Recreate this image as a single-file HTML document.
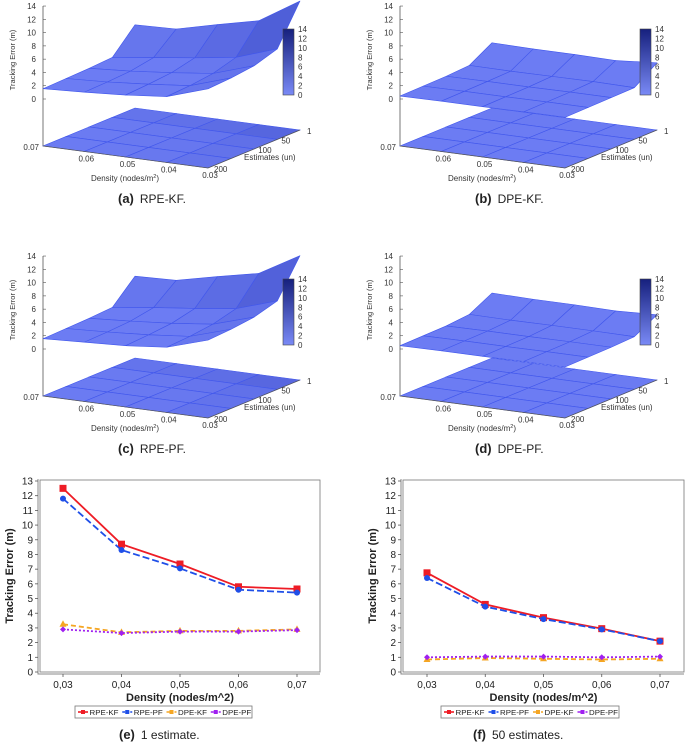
<!DOCTYPE html>
<html><head><meta charset="utf-8"><style>
html,body{margin:0;padding:0;background:#fff}
svg{display:block;font-family:"Liberation Sans",sans-serif}
</style></head><body>
<svg id="fig" width="685" height="742" viewBox="0 0 685 742" xmlns="http://www.w3.org/2000/svg"></svg>
<script>
// ---- data ----
const densities = [0.03, 0.04, 0.05, 0.06, 0.07];
const densityLabels = ["0,03", "0,04", "0,05", "0,06", "0,07"];
const estimates = [1, 50, 100, 150, 200];
const yTicks = [0,1,2,3,4,5,6,7,8,9,10,11,12,13];
const zTicks = [0,2,4,6,8,10,12,14];
// chart e (1 estimate)
const eRpeKf = [12.5, 8.7, 7.35, 5.8, 5.65];
const eRpePf = [11.8, 8.3, 7.05, 5.6, 5.4];
const eDpeKf = [3.25, 2.7, 2.8, 2.8, 2.9];
const eDpePf = [2.9, 2.65, 2.75, 2.75, 2.85];
// chart f (50 estimates)
const fRpeKf = [6.75, 4.6, 3.7, 2.95, 2.1];
const fRpePf = [6.4, 4.45, 3.6, 2.9, 2.1];
const fDpeKf = [0.85, 0.95, 0.9, 0.85, 0.9];
const fDpePf = [1.0, 1.05, 1.05, 1.0, 1.05];
// surfaces: rows = estimates, cols = densities
const surfRpeKf = [[12.5,8.7,7.3,5.8,5.6],[6.7,4.6,3.7,2.9,2.1],[5.6,3.6,2.9,2.3,1.9],[5.2,3.2,2.6,2.1,1.8],[5.0,3.0,2.4,2.0,1.7]];
const surfDpeKf = [[3.2,2.7,2.8,2.8,2.9],[0.85,0.95,0.9,0.85,0.9],[0.8,0.8,0.75,0.75,0.7],[0.75,0.75,0.7,0.7,0.65],[0.7,0.7,0.65,0.65,0.6]];
const surfRpePf = [[11.8,8.3,7.0,5.6,5.4],[6.4,4.4,3.6,2.9,2.1],[5.4,3.5,2.8,2.3,1.9],[5.0,3.1,2.5,2.1,1.8],[4.8,2.9,2.3,2.0,1.7]];
const surfDpePf = [[2.9,2.65,2.75,2.75,2.85],[1.0,1.05,1.05,1.0,1.05],[0.85,0.85,0.8,0.8,0.75],[0.8,0.8,0.75,0.75,0.7],[0.75,0.75,0.7,0.7,0.65]];

const NS="http://www.w3.org/2000/svg";
const svg=document.getElementById('fig');
function mk(tag,attrs,parent,text){const e=document.createElementNS(NS,tag);for(const k in attrs)e.setAttribute(k,attrs[k]);if(text!==undefined)e.textContent=text;(parent||svg).appendChild(e);return e;}
function col(z){const t=Math.max(0,Math.min(1,z/14));const a=[122,138,246],b=[22,32,125];return `rgb(${Math.round(a[0]+(b[0]-a[0])*t)},${Math.round(a[1]+(b[1]-a[1])*t)},${Math.round(a[2]+(b[2]-a[2])*t)})`;}
function colS(z){const t=Math.max(0,Math.min(1,(z-3)/14));const a=[108,124,243],b=[30,44,170];return `rgb(${Math.round(a[0]+(b[0]-a[0])*t)},${Math.round(a[1]+(b[1]-a[1])*t)},${Math.round(a[2]+(b[2]-a[2])*t)})`;}

function panel3d(ox,oy,grid,name,letter,label){
  const g=mk('g',{transform:`translate(${ox},${oy})`});
  
  
  const F=[208,168],L=[43,146],R=[300,130];
  const zScale=6.64,zOff=46;
  function floorPt(d,e){const u=(d-0.03)/0.04,v=(200-e)/199;return [F[0]+(L[0]-F[0])*u+(R[0]-F[0])*v,F[1]+(L[1]-F[1])*u+(R[1]-F[1])*v];}
  function surfPt(d,e,z){const p=floorPt(d,e);return [p[0],p[1]-zOff-z*zScale];}
  const ax=mk('line',{x1:43,y1:6,x2:43,y2:146,stroke:'#555','stroke-width':0.8},g);
  
  zTicks.forEach(z=>{const y=99-z*zScale;mk('line',{x1:43,y1:y,x2:46,y2:y,stroke:'#555','stroke-width':0.6},g);
    const t=mk('text',{x:36,y:y+3,'font-size':8,'text-anchor':'end',fill:'#333'},g,String(z));});
  const zt=mk('text',{transform:'translate(15,60) rotate(-90)','font-size':7.5,'text-anchor':'middle',fill:'#333'},g,'Tracking Error (m)');
  
  const cells=[];
  for(let r=0;r<estimates.length-1;r++)for(let c=0;c<densities.length-1;c++)cells.push([r,c]);
  cells.sort((A,B)=>(A[0]-A[1])-(B[0]-B[1]));
  cells.forEach(([r,c])=>{
    const zavg=(grid[r][c]+grid[r+1][c]+grid[r][c+1]+grid[r+1][c+1])/4;
    const pts=[floorPt(densities[c],estimates[r]),floorPt(densities[c+1],estimates[r]),floorPt(densities[c+1],estimates[r+1]),floorPt(densities[c],estimates[r+1])];
    const p=mk('polygon',{points:pts.map(q=>q.join(',')).join(' '),fill:colS(zavg*0.6+2),stroke:'#4157ec','stroke-width':0.6},g);
    
  });
  cells.forEach(([r,c])=>{
    const zavg=(grid[r][c]+grid[r+1][c]+grid[r][c+1]+grid[r+1][c+1])/4;
    const pts=[surfPt(densities[c],estimates[r],grid[r][c]),surfPt(densities[c+1],estimates[r],grid[r][c+1]),surfPt(densities[c+1],estimates[r+1],grid[r+1][c+1]),surfPt(densities[c],estimates[r+1],grid[r+1][c])];
    const p=mk('polygon',{points:pts.map(q=>q.join(',')).join(' '),fill:colS(zavg),stroke:'#4157ec','stroke-width':0.6,'stroke-linejoin':'round'},g);
    
  });
  mk('polyline',{points:`${L[0]},${L[1]} ${F[0]},${F[1]} ${R[0]},${R[1]}`,fill:'none',stroke:'#555','stroke-width':0.7},g);
  densities.forEach((d,i)=>{const p=floorPt(d,200);const t=mk('text',{x:p[0]-(i===4?4:-2),y:p[1]+(i===4?4:10),'font-size':8,'text-anchor':i===4?'end':'middle',fill:'#333'},g,d.toFixed(2));
    });
  const dt=mk('text',{x:125,y:181,'font-size':8,'text-anchor':'middle',fill:'#333'},g,'Density (nodes/m');
  mk('tspan',{dy:-3,'font-size':5.5},dt,'2');mk('tspan',{dy:3},dt,')');
  
  [1,50,100,200].forEach(e=>{const p=floorPt(0.03,e);const t=mk('text',{x:p[0]+(e===1?7:e===200?6:4),y:p[1]+4,'font-size':8,fill:'#333'},g,String(e));
    });
  const et=mk('text',{x:244,y:160,'font-size':8,fill:'#333'},g,'Estimates (un)');
  
  const defs=mk('defs',{},g);const gid='cb'+letter;
  const lg=mk('linearGradient',{id:gid,x1:0,y1:1,x2:0,y2:0},defs);
  mk('stop',{offset:0,'stop-color':col(0)},lg);mk('stop',{offset:1,'stop-color':col(14)},lg);
  const cb=mk('rect',{x:283,y:29,width:11,height:66,fill:`url(#${gid})`,stroke:'#444','stroke-width':0.6},g);
  
  zTicks.forEach(z=>{const y=95-z*66/14;const t=mk('text',{x:298,y:y+3,'font-size':8,fill:'#333'},g,String(z));});
  const cap=mk('text',{x:118,y:203,'font-size':12,fill:'#222'},g);
  mk('tspan',{'font-weight':'bold','font-size':13},cap,`(${letter})`);mk('tspan',{dx:6},cap,label);
  
}
panel3d(0,0,surfRpeKf,'surface-rpe-kf','a','RPE-KF.');
panel3d(357,0,surfDpeKf,'surface-dpe-kf','b','DPE-KF.');
panel3d(0,250,surfRpePf,'surface-rpe-pf','c','RPE-PF.');
panel3d(357,250,surfDpePf,'surface-dpe-pf','d','DPE-PF.');

function lineChart(o){
  const g=mk('g',{});
  
  
  const yS=v=>672-v*(191/13);
  const xS=i=>o.x0+i*o.dx;
  const fr=mk('rect',{x:o.left,y:480,width:o.right-o.left,height:192,fill:'#fff',stroke:'#777','stroke-width':0.8},g);
  
  mk('polyline',{points:`${o.left-2},479 ${o.left-2},674 ${o.right},674`,fill:'none',stroke:'#888','stroke-width':1},g);
  yTicks.forEach(v=>{const y=yS(v);mk('line',{x1:o.left-5,y1:y,x2:o.left-2,y2:y,stroke:'#555','stroke-width':0.8},g);
    const t=mk('text',{x:o.left-7,y:y+3.5,'font-size':10,'text-anchor':'end',fill:'#222'},g,String(v));});
  densityLabels.forEach((l,i)=>{const x=xS(i);mk('line',{x1:x,y1:674,x2:x,y2:677,stroke:'#555','stroke-width':0.8},g);
    const t=mk('text',{x:x,y:688,'font-size':10,'text-anchor':'middle',fill:'#222'},g,l);});
  const xt=mk('text',{x:(o.left+o.right)/2,y:701,'font-size':11,'font-weight':'bold','text-anchor':'middle',fill:'#222'},g,'Density (nodes/m^2)');
  
  const yt=mk('text',{transform:`translate(${o.left-27},576) rotate(-90)`,'font-size':11,'font-weight':'bold','text-anchor':'middle',fill:'#222'},g,'Tracking Error (m)');
  
  const series=[[o.s[0],'#ee1c25','','sq','rpe-kf'],[o.s[1],'#1f4fe8','7,3','ci','rpe-pf'],[o.s[2],'#f5a623','5,3','tr','dpe-kf'],[o.s[3],'#a020f0','2,2','di','dpe-pf']];
  series.forEach(([vals,c,dash,m,nm])=>{
    const pl=mk('polyline',{points:vals.map((v,i)=>xS(i)+','+yS(v)).join(' '),fill:'none',stroke:c,'stroke-width':1.8,'stroke-dasharray':dash},g);
    
    vals.forEach((v,i)=>{const x=xS(i),y=yS(v);let p;
      if(m==='sq')p=mk('rect',{x:x-3.5,y:y-3.5,width:7,height:7,fill:c},g);
      else if(m==='ci')p=mk('circle',{cx:x,cy:y,r:3,fill:c},g);
      else if(m==='tr')p=mk('polygon',{points:`${x},${y-4} ${x+3.5},${y+2.5} ${x-3.5},${y+2.5}`,fill:c},g);
      else p=mk('polygon',{points:`${x},${y-3} ${x+3},${y} ${x},${y+3} ${x-3},${y}`,fill:c},g);
      });
  });
  const lg=mk('g',{},g);
  mk('rect',{x:o.lx,y:706,width:o.lw,height:12,fill:'#fff',stroke:'#777','stroke-width':0.8},lg);
  const names=['RPE-KF','RPE-PF','DPE-KF','DPE-PF'];
  series.forEach(([v,c,dash,m,nm],k)=>{const x=o.lx+3+k*o.lw/4;
    const it=mk('g',{},lg);
    mk('line',{x1:x,y1:712,x2:x+10,y2:712,stroke:c,'stroke-width':1.6,'stroke-dasharray':dash?'3,1':''},it);
    mk('rect',{x:x+3,y:710,width:4,height:4,fill:c},it);
    mk('text',{x:x+11.5,y:715,'font-size':7.5,textLength:29,lengthAdjust:'spacingAndGlyphs',fill:'#222'},it,names[k]);});
  const cap=mk('text',{x:o.cx,y:739,'font-size':12,fill:'#222'},g);
  mk('tspan',{'font-weight':'bold','font-size':13},cap,o.capL);mk('tspan',{dx:6},cap,o.capT);
  
}
lineChart({name:'chart-1-estimate',left:40,right:320,x0:63,dx:58.5,s:[eRpeKf,eRpePf,eDpeKf,eDpePf],lx:75,lw:177,cx:119,capL:'(e)',capT:'1 estimate.'});
lineChart({name:'chart-50-estimates',left:403,right:684,x0:427,dx:58.25,s:[fRpeKf,fRpePf,fDpeKf,fDpePf],lx:441,lw:178,cx:473,capL:'(f)',capT:'50 estimates.'});
</script>
</body></html>
